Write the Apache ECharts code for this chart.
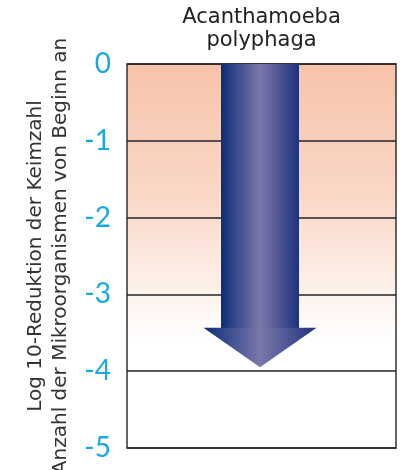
<!DOCTYPE html>
<html>
<head>
<meta charset="utf-8">
<title>Acanthamoeba polyphaga</title>
<script src="https://cdn.jsdelivr.net/npm/echarts@6/dist/echarts.min.js"></script>
<style>
  html, body { margin: 0; padding: 0; background: #fff; }
  #main { width: 414px; height: 470px; }
</style>
</head>
<body>
<div id="main"></div>
<script>
// Daten
var categories = ['Acanthamoeba\npolyphaga'];
var logReduction = [-3.95];
var yTicks = [0, -1, -2, -3, -4, -5];
var yName = 'Log 10-Reduktion der Keimzahl\nAnzahl der Mikroorganismen von Beginn an';

var chart = echarts.init(document.getElementById('main'));

function arrowGradient() {
  return new echarts.graphic.LinearGradient(0, 0, 1, 0, [
    { offset: 0, color: '#0c2c78' },
    { offset: 0.5, color: '#7a78aa' },
    { offset: 1, color: '#1e327d' }
  ]);
}

var option = {
  animation: false,
  grid: {
    left: 127, right: 18, top: 64, bottom: 22,
    outerBoundsMode: 'none',
    show: true,
    borderColor: '#333',
    borderWidth: 1.5,
    backgroundColor: new echarts.graphic.LinearGradient(0, 0, 0, 1, [
      { offset: 0, color: '#f7c3aa' },
      { offset: 0.35, color: '#fad8c8' },
      { offset: 0.72, color: '#ffffff' },
      { offset: 1, color: '#ffffff' }
    ])
  },
  xAxis: {
    type: 'category',
    data: categories,
    position: 'top',
    axisLine: { show: false },
    axisTick: { show: false },
    axisLabel: {
      show: true,
      color: '#222',
      fontFamily: 'DejaVu Sans',
      fontSize: 21,
      lineHeight: 23,
      margin: 12
    }
  },
  yAxis: {
    type: 'value',
    min: -5,
    max: 0,
    interval: 1,
    name: yName,
    nameLocation: 'middle',
    nameRotate: 90,
    nameGap: 52,
    nameTextStyle: {
      color: '#333',
      fontFamily: 'DejaVu Sans',
      fontSize: 20,
      lineHeight: 25
    },
    axisLine: { show: false },
    axisTick: { show: false },
    axisLabel: {
      color: '#1aa8e2',
      fontFamily: 'Lato',
      fontSize: 28,
      margin: 16,
      formatter: function (v) { return yTicks.indexOf(v) >= 0 ? String(v) : ''; }
    },
    splitLine: { lineStyle: { color: '#222', width: 1.5 } }
  },
  series: [{
    type: 'custom',
    data: logReduction.map(function (v, i) { return [i, v]; }),
    renderItem: function (params, api) {
      var top = api.coord([api.value(0), 0]);
      var tip = api.coord([api.value(0), api.value(1)]);
      var band = api.size([1, 0])[0];
      var cx = top[0] - 1.5;
      var shaftW = band * 0.29;
      var headW = band * 0.42;
      var headH = headW * 0.35;
      var headY = tip[1] - headH;
      return {
        type: 'group',
        children: [{
          type: 'rect',
          shape: { x: cx - shaftW / 2, y: top[1], width: shaftW, height: headY - top[1] + 0.5 },
          style: { fill: arrowGradient() }
        }, {
          type: 'polygon',
          shape: { points: [[cx - headW / 2, headY], [cx + headW / 2, headY], [cx, tip[1]]] },
          style: { fill: arrowGradient() }
        }]
      };
    }
  }]
};

chart.setOption(option);
</script>
</body>
</html>
